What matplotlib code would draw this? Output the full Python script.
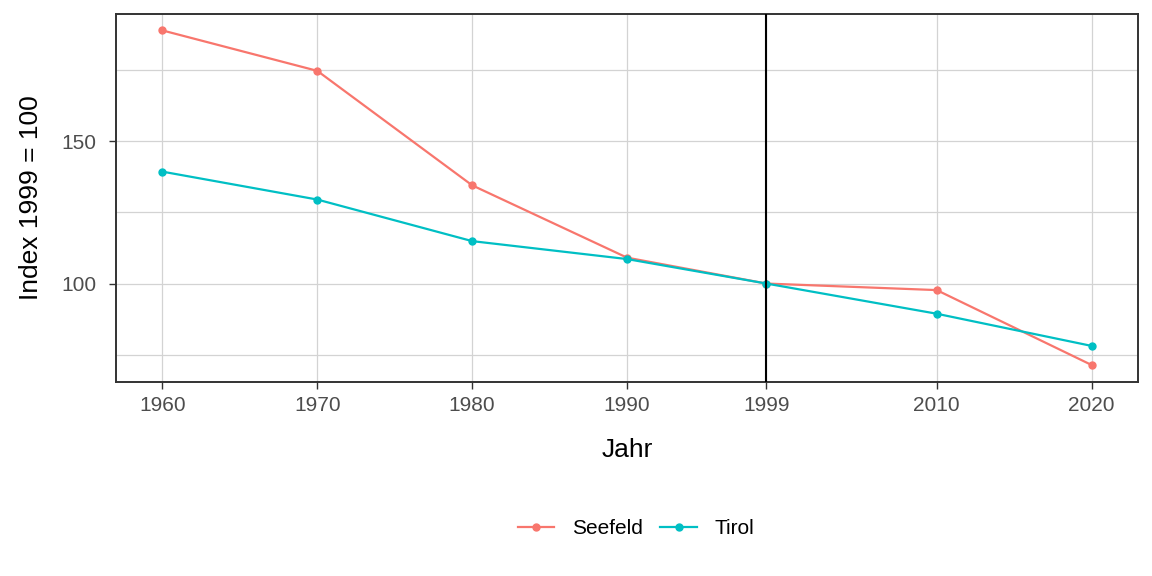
import matplotlib
matplotlib.use('Agg')
import matplotlib.pyplot as plt

plt.rcParams['font.family'] = ['Liberation Sans', 'DejaVu Sans']

# Daten (Index 1999 = 100)
jahre = [1960, 1970, 1980, 1990, 1999, 2010, 2020]
seefeld = [188.9, 174.7, 134.5, 109.1, 100.0, 97.7, 71.4]
tirol = [139.3, 129.5, 114.9, 108.6, 100.0, 89.4, 78.1]
farbe_seefeld = '#F8766D'
farbe_tirol = '#00BFC4'

fig = plt.figure(figsize=(11.52, 5.76), dpi=100)
ax = fig.add_axes([116 / 1152, 1 - 381.7 / 576, (1138 - 116) / 1152, (381.7 - 13.7) / 576])

ax.plot(jahre, seefeld, color=farbe_seefeld, lw=1.6, marker='o', ms=5, label='Seefeld', zorder=3)
ax.plot(jahre, tirol, color=farbe_tirol, lw=1.6, marker='o', ms=5, label='Tirol', zorder=3)
ax.axvline(1999, color='black', lw=1.5, zorder=4)

# Achsen wie ggplot (5% Erweiterung)
alle = seefeld + tirol
lo, hi = min(alle), max(alle)
ax.set_xlim(1960 - 3, 2020 + 3)
ax.set_ylim(lo - 0.05 * (hi - lo), hi + 0.05 * (hi - lo))

ax.set_xticks(jahre)
ax.set_xticklabels([str(j) for j in jahre])
ax.set_yticks([100, 150])
ax.set_yticks([75, 125, 175], minor=True)
ax.grid(True, which='both', color='#D3D3D3', lw=0.9, zorder=0)
ax.tick_params(which='major', length=5, width=1, color='#333333', labelsize=15,
               labelcolor='#4D4D4D')
ax.tick_params(axis='x', pad=5.5)
ax.tick_params(axis='y', pad=9)
ax.tick_params(which='minor', length=0)
for s in ax.spines.values():
    s.set_color('#333333')
    s.set_linewidth(1.4)

ax.set_xlabel('Jahr', fontsize=19, labelpad=16)
ax.set_ylabel('Index 1999 = 100', fontsize=19, labelpad=13)

fig.legend(loc='center', bbox_to_anchor=(636 / 1152, 1 - 529 / 576), ncol=2, frameon=False,
           fontsize=15, handlelength=1.75, handletextpad=0.85, columnspacing=0.85)

fig.savefig('out.png', dpi=100)
